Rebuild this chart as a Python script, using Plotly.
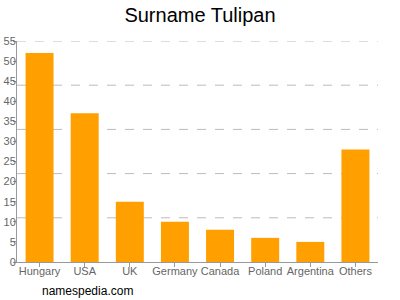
import plotly.graph_objects as go

categories = ["Hungary", "USA", "UK", "Germany", "Canada", "Poland", "Argentina", "Others"]
values = [52, 37, 15, 10, 8, 6, 5, 28]
y_ticks = list(range(0, 60, 5))
grid_lines = [11, 22, 33, 44, 55]
y_range = [0, 55]

fig = go.Figure()
fig.add_trace(go.Bar(x=categories, y=values, marker_color="#FFA000",
                     marker_line_width=0, width=0.62))

# dashed horizontal grid lines (every 11 units)
for g in grid_lines:
    fig.add_shape(type="line", xref="paper", yref="y", x0=0, x1=1, y0=g, y1=g,
                  line=dict(color="#BBBBBB", width=1, dash="dash"), layer="below")

fig.update_layout(
    width=400, height=300,
    margin=dict(l=17, r=22, t=41, b=38),
    paper_bgcolor="white", plot_bgcolor="white",
    showlegend=False,
    font=dict(family="Liberation Sans, Arial, sans-serif", size=11, color="#666666"),
    title=dict(text="Surname Tulipan", x=0.5, xanchor="center", y=0.95, yanchor="middle",
               font=dict(size=20, color="#000000")),
    xaxis=dict(showline=True, linecolor="#999999", linewidth=1, automargin=False,
               tickangle=0, ticks="outside", ticklen=4, tickcolor="#999999",
               ticklabelstandoff=-5,
               tickfont=dict(size=11, color="#666666"), showgrid=False),
    yaxis=dict(range=y_range, tickvals=y_ticks, showline=True, linecolor="#999999",
               linewidth=1, ticks="outside", ticklen=3, tickcolor="#999999",
               ticklabelstandoff=-5,
               showgrid=False, zeroline=False, automargin=False,
               tickfont=dict(size=11, color="#666666")),
    annotations=[dict(text="namespedia.com", x=(40 - 17) / 361, y=-(291 - 262) / 221,
                      xref="paper", yref="paper",
                      xanchor="left", yanchor="middle", showarrow=False,
                      font=dict(size=12, color="#000000"))],
)
fig.write_html("out.html")
